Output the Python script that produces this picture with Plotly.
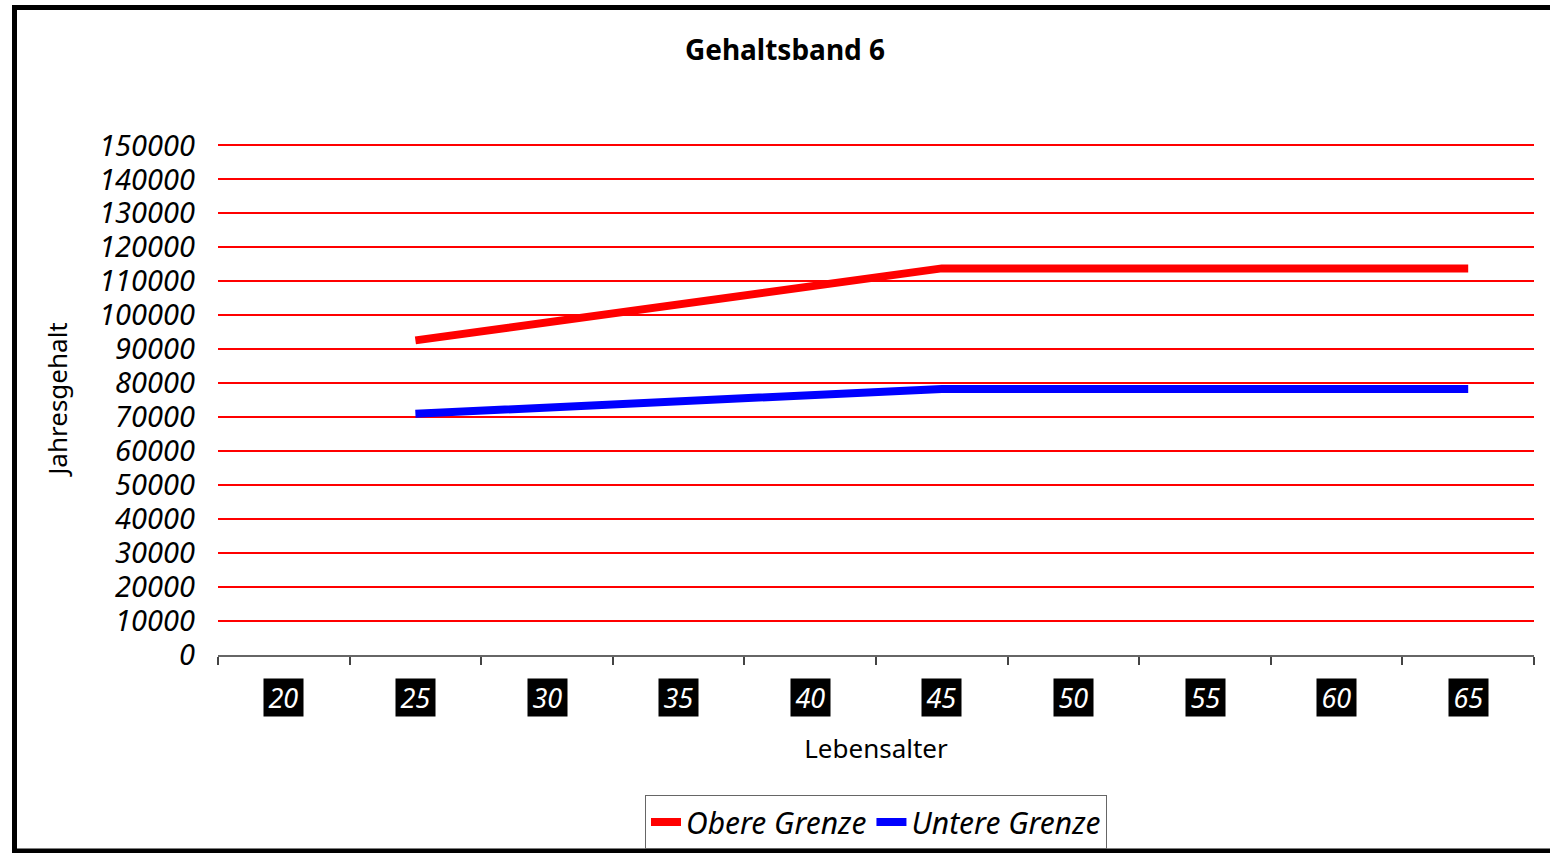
import plotly.graph_objects as go

ages = ["20", "25", "30", "35", "40", "45", "50", "55", "60", "65"]
obere = [None, 92600, 97900, 103200, 108500, 113800, 113800, 113800, 113800, 113800]
untere = [None, 71000, 72800, 74600, 76500, 78300, 78300, 78300, 78300, 78300]
y_ticks = list(range(0, 150001, 10000))

W, H = 1550, 853
L, R, T, B = 218, 1534, 142, 655
YMAX = 151000

def px(x):
    return (x - L) / (R - L)

def py(y):
    return (B - y) / (B - T)

fig = go.Figure()
fig.add_trace(go.Scatter(x=ages, y=obere, mode="lines", name="Obere Grenze",
                         line=dict(color="#ff0000", width=8)))
fig.add_trace(go.Scatter(x=ages, y=untere, mode="lines", name="Untere Grenze",
                         line=dict(color="#0000ff", width=8)))

font_family = "Noto Sans"

annotations = []
for i, a in enumerate(ages):
    annotations.append(dict(x=i, xref="x", y=py(697), yref="paper", text="<i>&#8201;%s&#8201;</i>" % a,
                            showarrow=False, bgcolor="black", font=dict(color="white", size=27, family=font_family),
                            borderpad=0, xanchor="center", yanchor="middle"))

fig.update_layout(
    width=W, height=H,
    margin=dict(l=L, r=W - R, t=T, b=H - B, autoexpand=False),
    paper_bgcolor="white", plot_bgcolor="white",
    title=dict(text="<b>Gehaltsband 6</b>", x=785 / W, xanchor="center", y=1 - 50 / H, yanchor="middle",
               font=dict(size=28, color="black", family=font_family)),
    showlegend=True,
    legend=dict(orientation="h", x=0.5, xanchor="center", xref="paper", yref="container", y=1 - 795 / H, yanchor="top",
                bordercolor="#666666", borderwidth=1, bgcolor="white",
                font=dict(size=30, color="black", family=font_family, style="italic")),
    annotations=annotations,
    shapes=[dict(type="rect", xref="paper", yref="paper", x0=px(14.5), x1=px(1565), y0=py(7.5), y1=py(851),
                 line=dict(color="black", width=5), fillcolor="rgba(0,0,0,0)", layer="above")],
)

fig.update_xaxes(type="category", categoryorder="array", categoryarray=ages, automargin=False,
                 showgrid=False, showticklabels=False, showline=True, linecolor="#666666", linewidth=1.5,
                 ticks="outside", tickson="boundaries", ticklen=8, tickcolor="#444444", tickwidth=1.5,
                 range=[-0.5, len(ages) - 0.5],
                 title=dict(text="Lebensalter", standoff=84, font=dict(size=26, color="black", family=font_family)))
fig.update_yaxes(range=[0, YMAX], tickvals=y_ticks, ticktext=[str(v) for v in y_ticks], automargin=False,
                 showgrid=True, gridcolor="#ff0000", gridwidth=2, zeroline=False, showline=False,
                 ticks="", ticklabelstandoff=22,
                 tickfont=dict(size=29, color="black", family=font_family, style="italic"),
                 title=dict(text="Jahresgehalt", standoff=24, font=dict(size=26, color="black", family=font_family)))

fig.write_html("out.html", config={"displayModeBar": False},
               post_script="document.body.style.margin='0';document.body.style.overflow='hidden';")
